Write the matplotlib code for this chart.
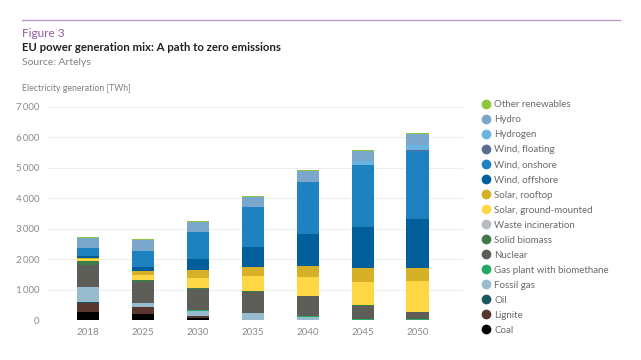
import numpy as np
import matplotlib
matplotlib.use("Agg")
import matplotlib.pyplot as plt
from matplotlib.lines import Line2D

plt.rcParams['font.family'] = ['Lato', 'DejaVu Sans']

years = ['2018', '2025', '2030', '2035', '2040', '2045', '2050']

# TWh per technology, bottom of the stack first
coal = [250, 195, 60, 0, 0, 0, 0]
lignite = [305, 220, 70, 0, 0, 0, 0]
oil = [35, 10, 10, 0, 0, 0, 0]
fossil_gas = [480, 130, 160, 220, 110, 0, 0]
gas_biomethane = [20, 15, 15, 20, 25, 25, 25]
nuclear = [715, 695, 715, 680, 640, 450, 250]
solid_biomass = [130, 40, 35, 25, 25, 20, 0]
waste_incineration = [0, 0, 0, 0, 0, 0, 0]
solar_ground = [80, 175, 330, 505, 625, 770, 1020]
solar_rooftop = [30, 145, 255, 295, 365, 430, 420]
wind_offshore = [50, 130, 340, 660, 1020, 1350, 1595]
wind_onshore = [260, 525, 900, 1300, 1715, 2040, 2255]
wind_floating = [0, 0, 0, 0, 0, 10, 10]
hydrogen = [0, 0, 0, 0, 0, 120, 185]
hydro = [345, 345, 345, 335, 365, 350, 345]
other_renewables = [30, 30, 30, 30, 30, 30, 30]

series = [
    ("Coal", coal, "#000000"),
    ("Lignite", lignite, "#5a3631"),
    ("Oil", oil, "#1e5963"),
    ("Fossil gas", fossil_gas, "#98bccf"),
    ("Gas plant with biomethane", gas_biomethane, "#24a862"),
    ("Nuclear", nuclear, "#5e5e58"),
    ("Solid biomass", solid_biomass, "#3f7a4a"),
    ("Waste incineration", waste_incineration, "#b5bcc2"),
    ("Solar, ground-mounted", solar_ground, "#ffd744"),
    ("Solar, rooftop", solar_rooftop, "#d6b027"),
    ("Wind, offshore", wind_offshore, "#005e9a"),
    ("Wind, onshore", wind_onshore, "#1f82c0"),
    ("Wind, floating", wind_floating, "#5a6e94"),
    ("Hydrogen", hydrogen, "#6ab4e2"),
    ("Hydro", hydro, "#7ba7cc"),
    ("Other renewables", other_renewables, "#8dc63f"),
]

fig = plt.figure(figsize=(6.41, 3.6), dpi=100)
ax = fig.add_axes([0.075, 0.111, 0.647, 0.592])

x = np.arange(len(years))
bottom = np.zeros(len(years))
for name, vals, col in series:
    ax.bar(x, vals, width=0.41, bottom=bottom, color=col, linewidth=0, zorder=3)
    bottom += np.array(vals)

ax.set_xlim(-0.73, 6.82)
ax.set_ylim(0, 7000)
yt = np.arange(0, 7001, 1000)
ax.set_yticks(yt)
ax.set_yticklabels([f"{v:,}".replace(",", "\u2009") for v in yt])
ax.set_xticks(x)
ax.set_xticklabels(years)
ax.tick_params(axis='both', length=0, labelsize=7, colors='#8a8a8a', pad=6)
ax.grid(axis='y', color='#eeeeee', linewidth=0.8, zorder=0)
for s in ax.spines.values():
    s.set_visible(False)

handles = [Line2D([], [], marker='o', linestyle='none', markersize=6,
                  markerfacecolor=col, markeredgecolor=col, label=name)
           for name, vals, col in reversed(series)]
fig.legend(handles=handles, loc='upper left', bbox_to_anchor=(0.745, 0.732),
           frameon=False, fontsize=7, labelcolor='#6a6a6a', handletextpad=0.3,
           labelspacing=0.62, handlelength=1.0, borderaxespad=0)

fig.add_artist(Line2D([0.034, 0.968], [0.944, 0.944], color='#b896c8', linewidth=0.9))
fig.text(0.034, 0.906, "Figure 3", color='#8c5aa0', fontsize=8.5, va='center')
fig.text(0.034, 0.869, "EU power generation mix: A path to zero emissions",
         color='#222222', fontsize=8.2, fontweight='bold', va='center')
fig.text(0.034, 0.827, "Source: Artelys", color='#808080', fontsize=7.5, va='center')
fig.text(0.034, 0.755, "Electricity generation [TWh]", color='#808080', fontsize=6.3,
         va='center')

fig.savefig("out.png", dpi=100)
